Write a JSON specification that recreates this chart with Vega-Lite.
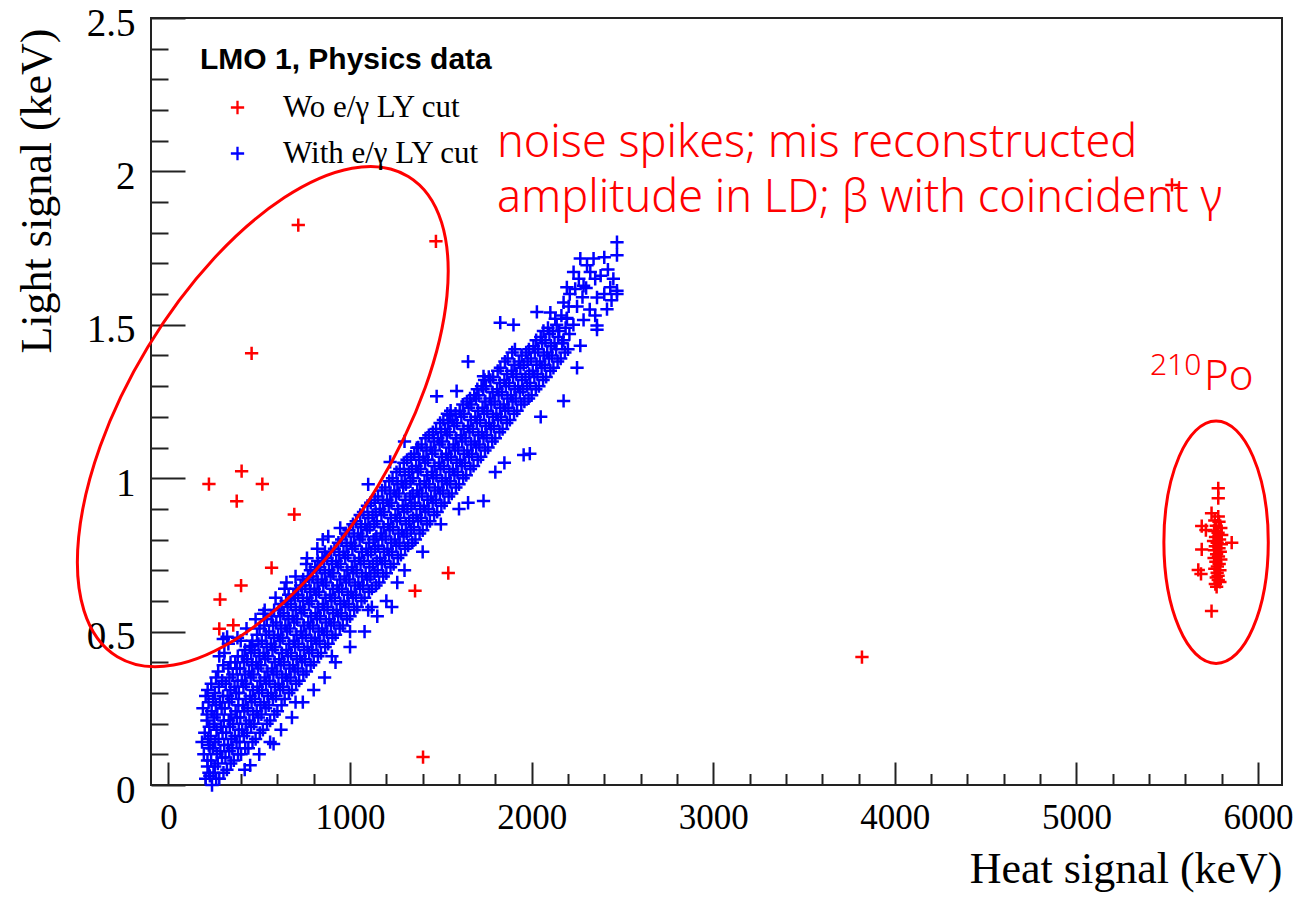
{
  "$schema": "https://vega.github.io/schema/vega-lite/v6.json",
  "width": 1131,
  "height": 767,
  "autosize": {"type": "none"},
  "padding": {"left": 151, "top": 18, "right": 14, "bottom": 113},
  "background": "white",
  "config": {
    "view": {"stroke": "#222222", "strokeWidth": 2},
    "axis": {"grid": false, "tickColor": "#222222", "tickWidth": 2, "labelColor": "black", "titleColor": "black"}
  },
  "datasets": {
    "wo": [
      {"h":715,"l":1.825},{"h":1473,"l":1.772},{"h":458,"l":1.407},{"h":223,"l":0.981},{"h":403,"l":1.023},{"h":517,"l":0.981},{"h":376,"l":0.925},{"h":693,"l":0.882},{"h":568,"l":0.708},{"h":400,"l":0.65},{"h":284,"l":0.605},{"h":280,"l":0.509},{"h":357,"l":0.521},{"h":1541,"l":0.691},{"h":1358,"l":0.633},{"h":1402,"l":0.091},{"h":3819,"l":0.417},{"h":5526,"l":1.956},
      {"h":5781,"l":0.967},{"h":5781,"l":0.935},{"h":5744,"l":0.886},{"h":5781,"l":0.875},{"h":5690,"l":0.844},{"h":5713,"l":0.831},{"h":5855,"l":0.79},{"h":5690,"l":0.768},{"h":5671,"l":0.701},{"h":5686,"l":0.688},{"h":5781,"l":0.668},{"h":5772,"l":0.646},{"h":5744,"l":0.567},
      {"h":5762,"l":0.862},{"h":5785,"l":0.858},{"h":5770,"l":0.845},{"h":5795,"l":0.838},{"h":5758,"l":0.828},{"h":5780,"l":0.822},{"h":5800,"l":0.815},{"h":5766,"l":0.808},{"h":5788,"l":0.8},{"h":5755,"l":0.795},{"h":5775,"l":0.79},{"h":5798,"l":0.785},{"h":5765,"l":0.778},{"h":5785,"l":0.772},{"h":5760,"l":0.765},{"h":5792,"l":0.76},{"h":5772,"l":0.752},{"h":5782,"l":0.745},{"h":5758,"l":0.74},{"h":5795,"l":0.735},{"h":5768,"l":0.728},{"h":5786,"l":0.72},{"h":5776,"l":0.712},{"h":5762,"l":0.705},{"h":5790,"l":0.7},{"h":5775,"l":0.692},{"h":5780,"l":0.682},{"h":5770,"l":0.676},{"h":5790,"l":0.662},{"h":5765,"l":0.655}
    ],
    "with": [
      {"h":205,"l":0.02},{"h":215,"l":0.06},{"h":195,"l":0.1},{"h":222,"l":0.13},{"h":200,"l":0.17},{"h":212,"l":0.21},{"h":190,"l":0.25},{"h":205,"l":0.29},{"h":228,"l":0.03},{"h":185,"l":0.14},
      {"h":223,"l":0.04},{"h":215,"l":0.08},{"h":227,"l":0.12},{"h":218,"l":0.15},{"h":225,"l":0.19},{"h":213,"l":0.23},{"h":221,"l":0.27},{"h":216,"l":0.31},
      {"h":240,"l":0.0},{"h":248,"l":0.04},{"h":235,"l":0.08},{"h":244,"l":0.12},{"h":232,"l":0.16},{"h":250,"l":0.2},{"h":238,"l":0.24},{"h":246,"l":0.28},{"h":236,"l":0.33},
      {"h":263,"l":0.02},{"h":255,"l":0.06},{"h":267,"l":0.1},{"h":258,"l":0.14},{"h":265,"l":0.18},{"h":253,"l":0.22},{"h":261,"l":0.26},{"h":256,"l":0.3},{"h":262,"l":0.35},
      {"h":280,"l":0.02},{"h":272,"l":0.07},{"h":286,"l":0.11},{"h":276,"l":0.15},{"h":290,"l":0.19},{"h":268,"l":0.23},{"h":284,"l":0.27},{"h":278,"l":0.32},{"h":274,"l":0.37},
      {"h":303,"l":0.04},{"h":295,"l":0.09},{"h":307,"l":0.13},{"h":298,"l":0.17},{"h":305,"l":0.21},{"h":293,"l":0.25},{"h":301,"l":0.29},{"h":296,"l":0.34},{"h":302,"l":0.39},
      {"h":322,"l":0.05},{"h":314,"l":0.09},{"h":328,"l":0.13},{"h":318,"l":0.17},{"h":332,"l":0.21},{"h":310,"l":0.25},{"h":326,"l":0.29},{"h":316,"l":0.33},{"h":330,"l":0.38},{"h":308,"l":0.43},
      {"h":343,"l":0.07},{"h":335,"l":0.11},{"h":347,"l":0.15},{"h":338,"l":0.19},{"h":345,"l":0.23},{"h":333,"l":0.27},{"h":341,"l":0.31},{"h":336,"l":0.35},{"h":342,"l":0.4},
      {"h":360,"l":0.08},{"h":352,"l":0.12},{"h":366,"l":0.16},{"h":356,"l":0.2},{"h":370,"l":0.24},{"h":348,"l":0.28},{"h":364,"l":0.32},{"h":354,"l":0.36},{"h":368,"l":0.4},
      {"h":383,"l":0.1},{"h":375,"l":0.14},{"h":387,"l":0.18},{"h":378,"l":0.22},{"h":385,"l":0.26},{"h":373,"l":0.3},{"h":381,"l":0.34},{"h":376,"l":0.38},{"h":382,"l":0.42},
      {"h":400,"l":0.1},{"h":392,"l":0.14},{"h":406,"l":0.18},{"h":396,"l":0.22},{"h":410,"l":0.26},{"h":388,"l":0.3},{"h":404,"l":0.34},{"h":394,"l":0.38},{"h":408,"l":0.42},{"h":398,"l":0.47},
      {"h":423,"l":0.12},{"h":415,"l":0.16},{"h":427,"l":0.2},{"h":418,"l":0.24},{"h":425,"l":0.28},{"h":413,"l":0.32},{"h":421,"l":0.36},{"h":416,"l":0.4},{"h":422,"l":0.44},
      {"h":440,"l":0.12},{"h":432,"l":0.17},{"h":446,"l":0.21},{"h":436,"l":0.25},{"h":450,"l":0.29},{"h":428,"l":0.33},{"h":444,"l":0.37},{"h":434,"l":0.41},{"h":448,"l":0.45},
      {"h":463,"l":0.14},{"h":455,"l":0.19},{"h":467,"l":0.23},{"h":458,"l":0.27},{"h":465,"l":0.31},{"h":453,"l":0.35},{"h":461,"l":0.39},{"h":456,"l":0.43},{"h":462,"l":0.47},
      {"h":480,"l":0.15},{"h":472,"l":0.2},{"h":486,"l":0.24},{"h":476,"l":0.28},{"h":490,"l":0.32},{"h":468,"l":0.36},{"h":484,"l":0.4},{"h":474,"l":0.44},{"h":488,"l":0.49},
      {"h":503,"l":0.17},{"h":495,"l":0.22},{"h":507,"l":0.26},{"h":498,"l":0.3},{"h":505,"l":0.34},{"h":493,"l":0.38},{"h":501,"l":0.42},{"h":496,"l":0.46},{"h":502,"l":0.51},
      {"h":520,"l":0.18},{"h":512,"l":0.23},{"h":526,"l":0.27},{"h":516,"l":0.31},{"h":530,"l":0.35},{"h":508,"l":0.39},{"h":524,"l":0.43},{"h":514,"l":0.47},{"h":528,"l":0.52},
      {"h":543,"l":0.2},{"h":535,"l":0.25},{"h":547,"l":0.29},{"h":538,"l":0.33},{"h":545,"l":0.37},{"h":533,"l":0.41},{"h":541,"l":0.45},{"h":536,"l":0.49},{"h":542,"l":0.54},
      {"h":560,"l":0.21},{"h":552,"l":0.26},{"h":566,"l":0.3},{"h":556,"l":0.34},{"h":570,"l":0.38},{"h":548,"l":0.42},{"h":564,"l":0.46},{"h":554,"l":0.5},{"h":568,"l":0.55},
      {"h":583,"l":0.23},{"h":575,"l":0.28},{"h":587,"l":0.32},{"h":578,"l":0.36},{"h":585,"l":0.4},{"h":573,"l":0.44},{"h":581,"l":0.48},{"h":576,"l":0.52},{"h":582,"l":0.57},
      {"h":600,"l":0.24},{"h":592,"l":0.29},{"h":606,"l":0.33},{"h":596,"l":0.37},{"h":610,"l":0.41},{"h":588,"l":0.45},{"h":604,"l":0.49},{"h":594,"l":0.53},{"h":608,"l":0.57},
      {"h":623,"l":0.26},{"h":615,"l":0.31},{"h":627,"l":0.35},{"h":618,"l":0.39},{"h":625,"l":0.43},{"h":613,"l":0.47},{"h":621,"l":0.51},{"h":616,"l":0.55},{"h":622,"l":0.59},
      {"h":640,"l":0.28},{"h":632,"l":0.32},{"h":646,"l":0.36},{"h":636,"l":0.4},{"h":650,"l":0.44},{"h":628,"l":0.48},{"h":644,"l":0.52},{"h":634,"l":0.56},{"h":648,"l":0.6},
      {"h":663,"l":0.3},{"h":655,"l":0.34},{"h":667,"l":0.38},{"h":658,"l":0.42},{"h":665,"l":0.46},{"h":653,"l":0.5},{"h":661,"l":0.54},{"h":656,"l":0.58},{"h":662,"l":0.62},
      {"h":680,"l":0.31},{"h":672,"l":0.35},{"h":686,"l":0.39},{"h":676,"l":0.43},{"h":690,"l":0.47},{"h":668,"l":0.51},{"h":684,"l":0.55},{"h":674,"l":0.59},{"h":688,"l":0.62},
      {"h":703,"l":0.33},{"h":695,"l":0.37},{"h":707,"l":0.41},{"h":698,"l":0.45},{"h":705,"l":0.49},{"h":693,"l":0.53},{"h":701,"l":0.57},{"h":696,"l":0.61},{"h":702,"l":0.64},
      {"h":720,"l":0.34},{"h":712,"l":0.38},{"h":726,"l":0.42},{"h":716,"l":0.46},{"h":730,"l":0.5},{"h":708,"l":0.54},{"h":724,"l":0.58},{"h":714,"l":0.62},{"h":728,"l":0.65},
      {"h":743,"l":0.36},{"h":735,"l":0.4},{"h":747,"l":0.44},{"h":738,"l":0.48},{"h":745,"l":0.52},{"h":733,"l":0.56},{"h":741,"l":0.6},{"h":736,"l":0.64},{"h":742,"l":0.67},
      {"h":760,"l":0.37},{"h":752,"l":0.41},{"h":766,"l":0.45},{"h":756,"l":0.49},{"h":770,"l":0.53},{"h":748,"l":0.57},{"h":764,"l":0.61},{"h":754,"l":0.65},{"h":768,"l":0.68},
      {"h":783,"l":0.39},{"h":775,"l":0.43},{"h":787,"l":0.47},{"h":778,"l":0.51},{"h":785,"l":0.55},{"h":773,"l":0.59},{"h":781,"l":0.63},{"h":776,"l":0.67},{"h":782,"l":0.7},
      {"h":800,"l":0.4},{"h":792,"l":0.44},{"h":806,"l":0.48},{"h":796,"l":0.52},{"h":810,"l":0.56},{"h":788,"l":0.6},{"h":804,"l":0.64},{"h":794,"l":0.68},{"h":808,"l":0.71},
      {"h":823,"l":0.42},{"h":815,"l":0.46},{"h":827,"l":0.5},{"h":818,"l":0.54},{"h":825,"l":0.58},{"h":813,"l":0.62},{"h":821,"l":0.66},{"h":816,"l":0.7},{"h":822,"l":0.73},
      {"h":840,"l":0.43},{"h":832,"l":0.47},{"h":846,"l":0.51},{"h":836,"l":0.55},{"h":850,"l":0.59},{"h":828,"l":0.63},{"h":844,"l":0.67},{"h":834,"l":0.71},{"h":848,"l":0.74},
      {"h":863,"l":0.45},{"h":855,"l":0.49},{"h":867,"l":0.53},{"h":858,"l":0.57},{"h":865,"l":0.61},{"h":853,"l":0.65},{"h":861,"l":0.69},{"h":856,"l":0.73},{"h":862,"l":0.76},
      {"h":880,"l":0.46},{"h":872,"l":0.5},{"h":886,"l":0.54},{"h":876,"l":0.58},{"h":890,"l":0.62},{"h":868,"l":0.66},{"h":884,"l":0.7},{"h":874,"l":0.74},
      {"h":903,"l":0.48},{"h":895,"l":0.52},{"h":907,"l":0.56},{"h":898,"l":0.6},{"h":905,"l":0.64},{"h":893,"l":0.68},{"h":901,"l":0.72},{"h":896,"l":0.76},
      {"h":920,"l":0.49},{"h":912,"l":0.53},{"h":926,"l":0.57},{"h":916,"l":0.61},{"h":930,"l":0.65},{"h":908,"l":0.69},{"h":924,"l":0.73},{"h":914,"l":0.77},
      {"h":943,"l":0.51},{"h":935,"l":0.55},{"h":947,"l":0.59},{"h":938,"l":0.63},{"h":945,"l":0.67},{"h":933,"l":0.71},{"h":941,"l":0.75},{"h":936,"l":0.79},
      {"h":960,"l":0.52},{"h":952,"l":0.56},{"h":966,"l":0.6},{"h":956,"l":0.64},{"h":970,"l":0.68},{"h":948,"l":0.72},{"h":964,"l":0.76},{"h":954,"l":0.8},
      {"h":983,"l":0.54},{"h":975,"l":0.58},{"h":987,"l":0.62},{"h":978,"l":0.66},{"h":985,"l":0.7},{"h":973,"l":0.74},{"h":981,"l":0.78},{"h":976,"l":0.82},
      {"h":1000,"l":0.55},{"h":992,"l":0.59},{"h":1006,"l":0.63},{"h":996,"l":0.67},{"h":1010,"l":0.71},{"h":988,"l":0.75},{"h":1004,"l":0.79},{"h":994,"l":0.83},
      {"h":1023,"l":0.57},{"h":1015,"l":0.61},{"h":1027,"l":0.65},{"h":1018,"l":0.69},{"h":1025,"l":0.73},{"h":1013,"l":0.77},{"h":1021,"l":0.81},{"h":1016,"l":0.85},
      {"h":1040,"l":0.58},{"h":1032,"l":0.62},{"h":1046,"l":0.66},{"h":1036,"l":0.7},{"h":1050,"l":0.74},{"h":1028,"l":0.78},{"h":1044,"l":0.82},{"h":1034,"l":0.86},
      {"h":1063,"l":0.6},{"h":1055,"l":0.64},{"h":1067,"l":0.68},{"h":1058,"l":0.72},{"h":1065,"l":0.76},{"h":1053,"l":0.8},{"h":1061,"l":0.84},{"h":1056,"l":0.88},
      {"h":1080,"l":0.61},{"h":1072,"l":0.65},{"h":1086,"l":0.69},{"h":1076,"l":0.73},{"h":1090,"l":0.77},{"h":1068,"l":0.81},{"h":1084,"l":0.85},{"h":1074,"l":0.89},
      {"h":1103,"l":0.63},{"h":1095,"l":0.67},{"h":1107,"l":0.71},{"h":1098,"l":0.75},{"h":1105,"l":0.79},{"h":1093,"l":0.83},{"h":1101,"l":0.87},{"h":1096,"l":0.91},
      {"h":1120,"l":0.64},{"h":1112,"l":0.68},{"h":1126,"l":0.72},{"h":1116,"l":0.76},{"h":1130,"l":0.8},{"h":1108,"l":0.84},{"h":1124,"l":0.88},{"h":1114,"l":0.92},
      {"h":1143,"l":0.65},{"h":1135,"l":0.69},{"h":1147,"l":0.73},{"h":1138,"l":0.77},{"h":1145,"l":0.81},{"h":1133,"l":0.85},{"h":1141,"l":0.89},{"h":1136,"l":0.93},
      {"h":1160,"l":0.66},{"h":1152,"l":0.7},{"h":1166,"l":0.74},{"h":1156,"l":0.78},{"h":1170,"l":0.82},{"h":1148,"l":0.86},{"h":1164,"l":0.9},{"h":1154,"l":0.94},
      {"h":1183,"l":0.68},{"h":1175,"l":0.72},{"h":1187,"l":0.76},{"h":1178,"l":0.8},{"h":1185,"l":0.84},{"h":1173,"l":0.88},{"h":1181,"l":0.92},{"h":1176,"l":0.96},
      {"h":1200,"l":0.69},{"h":1192,"l":0.73},{"h":1206,"l":0.77},{"h":1196,"l":0.81},{"h":1210,"l":0.85},{"h":1188,"l":0.89},{"h":1204,"l":0.93},{"h":1194,"l":0.97},
      {"h":1223,"l":0.71},{"h":1215,"l":0.75},{"h":1227,"l":0.79},{"h":1218,"l":0.83},{"h":1225,"l":0.87},{"h":1213,"l":0.91},{"h":1221,"l":0.95},{"h":1216,"l":0.99},
      {"h":1240,"l":0.72},{"h":1232,"l":0.76},{"h":1246,"l":0.8},{"h":1236,"l":0.84},{"h":1250,"l":0.88},{"h":1228,"l":0.92},{"h":1244,"l":0.96},{"h":1234,"l":1.0},
      {"h":1263,"l":0.74},{"h":1255,"l":0.78},{"h":1267,"l":0.82},{"h":1258,"l":0.86},{"h":1265,"l":0.9},{"h":1253,"l":0.94},{"h":1261,"l":0.98},{"h":1256,"l":1.02},
      {"h":1280,"l":0.75},{"h":1272,"l":0.79},{"h":1286,"l":0.83},{"h":1276,"l":0.87},{"h":1290,"l":0.91},{"h":1268,"l":0.95},{"h":1284,"l":0.99},{"h":1274,"l":1.03},
      {"h":1303,"l":0.77},{"h":1295,"l":0.81},{"h":1307,"l":0.85},{"h":1298,"l":0.89},{"h":1305,"l":0.93},{"h":1293,"l":0.97},{"h":1301,"l":1.01},{"h":1296,"l":1.05},
      {"h":1320,"l":0.78},{"h":1312,"l":0.82},{"h":1326,"l":0.86},{"h":1316,"l":0.9},{"h":1330,"l":0.94},{"h":1308,"l":0.98},{"h":1324,"l":1.02},{"h":1314,"l":1.06},
      {"h":1343,"l":0.79},{"h":1335,"l":0.83},{"h":1347,"l":0.87},{"h":1338,"l":0.91},{"h":1345,"l":0.95},{"h":1333,"l":0.99},{"h":1341,"l":1.03},{"h":1336,"l":1.07},
      {"h":1360,"l":0.8},{"h":1352,"l":0.84},{"h":1366,"l":0.88},{"h":1356,"l":0.92},{"h":1370,"l":0.96},{"h":1348,"l":1.0},{"h":1364,"l":1.04},{"h":1354,"l":1.08},
      {"h":1383,"l":0.82},{"h":1375,"l":0.86},{"h":1387,"l":0.9},{"h":1378,"l":0.94},{"h":1385,"l":0.98},{"h":1373,"l":1.02},{"h":1381,"l":1.06},{"h":1376,"l":1.1},
      {"h":1400,"l":0.83},{"h":1392,"l":0.87},{"h":1406,"l":0.91},{"h":1396,"l":0.95},{"h":1410,"l":0.99},{"h":1388,"l":1.03},{"h":1404,"l":1.07},{"h":1394,"l":1.11},
      {"h":1423,"l":0.85},{"h":1415,"l":0.89},{"h":1427,"l":0.93},{"h":1418,"l":0.97},{"h":1425,"l":1.01},{"h":1413,"l":1.05},{"h":1421,"l":1.09},{"h":1416,"l":1.13},
      {"h":1440,"l":0.86},{"h":1432,"l":0.9},{"h":1446,"l":0.94},{"h":1436,"l":0.98},{"h":1450,"l":1.02},{"h":1428,"l":1.06},{"h":1444,"l":1.1},{"h":1434,"l":1.14},
      {"h":1463,"l":0.88},{"h":1455,"l":0.92},{"h":1467,"l":0.96},{"h":1458,"l":1.0},{"h":1465,"l":1.04},{"h":1453,"l":1.08},{"h":1461,"l":1.12},{"h":1456,"l":1.15},
      {"h":1480,"l":0.89},{"h":1472,"l":0.93},{"h":1486,"l":0.97},{"h":1476,"l":1.01},{"h":1490,"l":1.05},{"h":1468,"l":1.09},{"h":1484,"l":1.13},{"h":1474,"l":1.16},
      {"h":1503,"l":0.91},{"h":1495,"l":0.95},{"h":1507,"l":0.99},{"h":1498,"l":1.03},{"h":1505,"l":1.07},{"h":1493,"l":1.11},{"h":1501,"l":1.15},{"h":1496,"l":1.18},
      {"h":1520,"l":0.92},{"h":1512,"l":0.96},{"h":1526,"l":1.0},{"h":1516,"l":1.04},{"h":1530,"l":1.08},{"h":1508,"l":1.12},{"h":1524,"l":1.16},{"h":1514,"l":1.19},
      {"h":1543,"l":0.94},{"h":1535,"l":0.98},{"h":1547,"l":1.02},{"h":1538,"l":1.06},{"h":1545,"l":1.1},{"h":1533,"l":1.14},{"h":1541,"l":1.18},{"h":1536,"l":1.21},
      {"h":1560,"l":0.95},{"h":1552,"l":0.99},{"h":1566,"l":1.03},{"h":1556,"l":1.07},{"h":1570,"l":1.11},{"h":1548,"l":1.15},{"h":1564,"l":1.19},{"h":1554,"l":1.22},
      {"h":1583,"l":0.97},{"h":1575,"l":1.01},{"h":1587,"l":1.05},{"h":1578,"l":1.09},{"h":1585,"l":1.13},{"h":1573,"l":1.17},{"h":1581,"l":1.21},
      {"h":1600,"l":0.98},{"h":1592,"l":1.02},{"h":1606,"l":1.06},{"h":1596,"l":1.1},{"h":1610,"l":1.14},{"h":1588,"l":1.18},{"h":1604,"l":1.22},
      {"h":1623,"l":1.0},{"h":1615,"l":1.04},{"h":1627,"l":1.08},{"h":1618,"l":1.12},{"h":1625,"l":1.16},{"h":1613,"l":1.2},{"h":1621,"l":1.24},
      {"h":1640,"l":1.01},{"h":1632,"l":1.05},{"h":1646,"l":1.09},{"h":1636,"l":1.13},{"h":1650,"l":1.17},{"h":1628,"l":1.21},{"h":1644,"l":1.25},
      {"h":1663,"l":1.03},{"h":1655,"l":1.07},{"h":1667,"l":1.11},{"h":1658,"l":1.15},{"h":1665,"l":1.19},{"h":1653,"l":1.23},{"h":1661,"l":1.26},
      {"h":1680,"l":1.04},{"h":1672,"l":1.08},{"h":1686,"l":1.12},{"h":1676,"l":1.16},{"h":1690,"l":1.2},{"h":1668,"l":1.24},{"h":1684,"l":1.27},
      {"h":1703,"l":1.06},{"h":1695,"l":1.1},{"h":1707,"l":1.14},{"h":1698,"l":1.18},{"h":1705,"l":1.22},{"h":1693,"l":1.26},{"h":1701,"l":1.29},
      {"h":1720,"l":1.07},{"h":1712,"l":1.11},{"h":1726,"l":1.15},{"h":1716,"l":1.19},{"h":1730,"l":1.23},{"h":1708,"l":1.27},{"h":1724,"l":1.3},
      {"h":1743,"l":1.09},{"h":1735,"l":1.13},{"h":1747,"l":1.17},{"h":1738,"l":1.21},{"h":1745,"l":1.25},{"h":1733,"l":1.29},{"h":1741,"l":1.32},
      {"h":1760,"l":1.1},{"h":1752,"l":1.14},{"h":1766,"l":1.18},{"h":1756,"l":1.22},{"h":1770,"l":1.26},{"h":1748,"l":1.3},{"h":1764,"l":1.33},
      {"h":1783,"l":1.12},{"h":1775,"l":1.16},{"h":1787,"l":1.2},{"h":1778,"l":1.24},{"h":1785,"l":1.28},{"h":1773,"l":1.32},
      {"h":1800,"l":1.13},{"h":1792,"l":1.17},{"h":1806,"l":1.21},{"h":1796,"l":1.25},{"h":1810,"l":1.29},{"h":1788,"l":1.33},
      {"h":1823,"l":1.15},{"h":1815,"l":1.19},{"h":1827,"l":1.23},{"h":1818,"l":1.27},{"h":1825,"l":1.31},{"h":1813,"l":1.35},
      {"h":1840,"l":1.16},{"h":1832,"l":1.2},{"h":1846,"l":1.24},{"h":1836,"l":1.28},{"h":1850,"l":1.32},{"h":1828,"l":1.36},
      {"h":1863,"l":1.18},{"h":1855,"l":1.22},{"h":1867,"l":1.26},{"h":1858,"l":1.3},{"h":1865,"l":1.34},{"h":1853,"l":1.38},
      {"h":1880,"l":1.19},{"h":1872,"l":1.23},{"h":1886,"l":1.27},{"h":1876,"l":1.31},{"h":1890,"l":1.35},{"h":1868,"l":1.39},
      {"h":1903,"l":1.21},{"h":1895,"l":1.25},{"h":1907,"l":1.29},{"h":1898,"l":1.33},{"h":1905,"l":1.37},{"h":1893,"l":1.41},
      {"h":1920,"l":1.22},{"h":1912,"l":1.26},{"h":1926,"l":1.3},{"h":1916,"l":1.34},{"h":1930,"l":1.38},{"h":1908,"l":1.42},
      {"h":1943,"l":1.24},{"h":1935,"l":1.28},{"h":1947,"l":1.32},{"h":1938,"l":1.36},{"h":1945,"l":1.4},
      {"h":1960,"l":1.25},{"h":1952,"l":1.29},{"h":1966,"l":1.33},{"h":1956,"l":1.37},{"h":1970,"l":1.41},
      {"h":1983,"l":1.26},{"h":1975,"l":1.3},{"h":1987,"l":1.34},{"h":1978,"l":1.38},{"h":1985,"l":1.42},
      {"h":2000,"l":1.27},{"h":1992,"l":1.31},{"h":2006,"l":1.35},{"h":1996,"l":1.39},{"h":2010,"l":1.43},
      {"h":2023,"l":1.29},{"h":2015,"l":1.33},{"h":2027,"l":1.37},{"h":2018,"l":1.41},{"h":2025,"l":1.45},
      {"h":2040,"l":1.3},{"h":2032,"l":1.34},{"h":2046,"l":1.38},{"h":2036,"l":1.42},{"h":2050,"l":1.46},
      {"h":2063,"l":1.32},{"h":2055,"l":1.36},{"h":2067,"l":1.4},{"h":2058,"l":1.44},{"h":2065,"l":1.48},
      {"h":2080,"l":1.33},{"h":2072,"l":1.37},{"h":2086,"l":1.41},{"h":2076,"l":1.45},{"h":2090,"l":1.49},
      {"h":2103,"l":1.35},{"h":2095,"l":1.39},{"h":2107,"l":1.43},{"h":2098,"l":1.47},
      {"h":2120,"l":1.36},{"h":2112,"l":1.4},{"h":2126,"l":1.44},{"h":2116,"l":1.48},{"h":2130,"l":1.52},
      {"h":2143,"l":1.38},{"h":2135,"l":1.42},{"h":2147,"l":1.46},{"h":2138,"l":1.5},
      {"h":2160,"l":1.39},{"h":2168,"l":1.44},{"h":2152,"l":1.48},{"h":2164,"l":1.53},
      {"h":2183,"l":1.41},{"h":2175,"l":1.45},{"h":2187,"l":1.49},
      {"h":2200,"l":1.42},{"h":2208,"l":1.47},{"h":2194,"l":1.52},{"h":2204,"l":1.56},
      {"h":2470,"l":1.769},{"h":2470,"l":1.727},{"h":2268,"l":1.716},{"h":2341,"l":1.716},{"h":2305,"l":1.694},{"h":2194,"l":1.622},{"h":2240,"l":1.617},{"h":2286,"l":1.627},{"h":2470,"l":1.611},{"h":2433,"l":1.622},{"h":2360,"l":1.589},{"h":2415,"l":1.551},{"h":2360,"l":1.498},{"h":2268,"l":1.432},{"h":2286,"l":1.516},{"h":2194,"l":1.522},{"h":2103,"l":1.54},{"h":2176,"l":1.573},{"h":2323,"l":1.672},{"h":2231,"l":1.672},{"h":2350,"l":1.65},{"h":2250,"l":1.56},{"h":2320,"l":1.55},{"h":2400,"l":1.6},{"h":2420,"l":1.68},{"h":2230,"l":1.5},{"h":2280,"l":1.59},{"h":2380,"l":1.66},{"h":2440,"l":1.58},{"h":2210,"l":1.6},{"h":2300,"l":1.62},{"h":2350,"l":1.53},{"h":2260,"l":1.65},{"h":2400,"l":1.72},{"h":2450,"l":1.65},
      {"h":323,"l":0.483},{"h":524,"l":0.558},{"h":763,"l":0.739},{"h":946,"l":0.838},{"h":1221,"l":1.053},{"h":1368,"l":1.099},{"h":1552,"l":1.204},{"h":1735,"l":1.332},{"h":2029,"l":1.542},{"h":1827,"l":1.507},{"h":1477,"l":1.267},{"h":1587,"l":1.284},{"h":302,"l":0.476},{"h":458,"l":0.453},{"h":650,"l":0.66},{"h":850,"l":0.8},{"h":1100,"l":0.98},{"h":1300,"l":1.12},{"h":1650,"l":1.38},{"h":1900,"l":1.5},
      {"h":450,"l":0.064},{"h":579,"l":0.134},{"h":1200,"l":0.6},{"h":1230,"l":0.58},{"h":1735,"l":0.926},{"h":1956,"l":1.076},{"h":1990,"l":1.08},{"h":2176,"l":1.252},{"h":2360,"l":1.484},{"h":2470,"l":1.6},{"h":900,"l":0.42},{"h":1100,"l":0.57},{"h":1300,"l":0.7},{"h":1650,"l":0.92},{"h":1850,"l":1.05},{"h":2050,"l":1.2},{"h":2250,"l":1.36},{"h":700,"l":0.27},{"h":1000,"l":0.5},{"h":1500,"l":0.85},
      {"h":280,"l":0.42},{"h":330,"l":0.46},{"h":380,"l":0.48},{"h":430,"l":0.51},{"h":480,"l":0.54},{"h":530,"l":0.57},{"h":590,"l":0.61},{"h":640,"l":0.64},{"h":700,"l":0.68},{"h":760,"l":0.72},{"h":820,"l":0.77},{"h":880,"l":0.81},
      {"h":420,"l":0.05},{"h":500,"l":0.1},{"h":560,"l":0.14},{"h":620,"l":0.18},{"h":680,"l":0.22},{"h":740,"l":0.27},{"h":800,"l":0.31},{"h":860,"l":0.35},{"h":920,"l":0.4},{"h":1000,"l":0.45},{"h":1080,"l":0.5},{"h":1150,"l":0.55},
      {"h":1120,"l":0.58},{"h":1260,"l":0.66},{"h":1400,"l":0.76},{"h":1600,"l":0.9},{"h":1800,"l":1.02}
    ],
    "e1": [{"h": 519.6, "l": 1.2008}],
    "e2": [{"h": 5769, "l": 0.7914}],
    "notes": [
      {"h": 1809, "l": 2.048, "t": "noise spikes; mis reconstructed"},
      {"h": 1809, "l": 1.869, "t": "amplitude in LD; β with coincident γ"}
    ],
    "sup": [{"h": 5405, "l": 1.3364, "t": "210"}],
    "po": [{"h": 5702, "l": 1.2875, "t": "Po"}]
  },
  "layer": [
    {
      "data": {"name": "wo"},
      "mark": {"type": "point", "shape": "M-1,0H1M0,-1V1", "filled": false, "size": 177, "strokeWidth": 2.5, "opacity": 1},
      "encoding": {
        "x": {"field": "h", "type": "quantitative", "scale": {"domain": [-96, 6132], "nice": false, "zero": false},
          "axis": {"orient": "bottom", "values": [0, 1000, 2000, 3000, 4000, 5000, 6000], "format": "d", "ticks": false, "tickSize": 0, "domain": false,
            "labelFont": "Liberation Serif", "labelFontSize": 35, "labelPadding": 15, "labelFlush": false, "labelOverlap": false,
            "title": "Heat signal (keV)", "titleFont": "Liberation Serif", "titleFontSize": 44, "titleFontWeight": "normal",
            "titleAlign": "right", "titleAnchor": "end", "titleBaseline": "alphabetic", "titleX": 1131, "titleY": 97}},
        "y": {"field": "l", "type": "quantitative", "scale": {"domain": [0, 2.5], "nice": false, "zero": false},
          "axis": {"orient": "left", "values": [0, 0.5, 1, 1.5, 2, 2.5], "format": "~g", "ticks": false, "tickSize": 0, "domain": false,
            "labelFont": "Liberation Serif", "labelFontSize": 39, "labelPadding": 16, "labelOffset": 5, "labelFlush": false, "labelOverlap": false, "labelBaseline": "middle",
            "title": "Light signal (keV)", "titleFont": "Liberation Serif", "titleFontSize": 44, "titleFontWeight": "normal",
            "titleAngle": 270, "titleAlign": "right", "titleBaseline": "alphabetic", "titleX": -101, "titleY": 10}},
        "color": {"datum": "Wo e/γ LY cut", "type": "nominal",
          "scale": {"domain": ["Wo e/γ LY cut", "With e/γ LY cut"], "range": ["#ff0000", "#0000ff"]},
          "legend": {"orient": "none", "legendX": 49, "legendY": 27, "title": "LMO 1, Physics data",
            "titleFont": "Liberation Sans", "titleFontWeight": "bold", "titleFontSize": 30, "titleColor": "black", "titlePadding": 17, "titleLimit": 600,
            "labelFont": "Liberation Serif", "labelFontSize": 31, "labelColor": "black", "labelOffset": 30, "labelLimit": 600,
            "symbolType": "M-1,0H1M0,-1V1", "symbolSize": 177, "symbolStrokeWidth": 2.3, "symbolOffset": 22, "rowPadding": 14, "padding": 0}}
      }
    },
    {
      "data": {"name": "with"},
      "mark": {"type": "point", "shape": "M-1,0H1M0,-1V1", "filled": false, "size": 177, "strokeWidth": 2.5, "opacity": 1},
      "encoding": {
        "x": {"field": "h", "type": "quantitative", "scale": {"domain": [-96, 6132], "nice": false, "zero": false},
          "axis": {"orient": "bottom", "values": [0, 1000, 2000, 3000, 4000, 5000, 6000], "offset": -23, "tickSize": 23, "labels": false, "domain": false, "title": null}},
        "y": {"field": "l", "type": "quantitative", "scale": {"domain": [0, 2.5], "nice": false, "zero": false},
          "axis": {"orient": "left", "values": [0, 0.5, 1, 1.5, 2, 2.5], "offset": -34, "tickSize": 34, "labels": false, "domain": false, "title": null}},
        "color": {"datum": "With e/γ LY cut", "type": "nominal"}
      }
    },
    {
      "data": {"name": "e1"},
      "mark": {"type": "point", "shape": "M0,-1A0.4786,1,0,1,1,0,1A0.4786,1,0,1,1,0,-1Z", "filled": false, "size": 315395, "angle": 31.2, "strokeWidth": 3, "color": "#ff0000", "opacity": 1},
      "encoding": {
        "x": {"field": "h", "type": "quantitative", "scale": {"domain": [-96, 6132], "nice": false, "zero": false},
          "axis": {"orient": "bottom", "values": [200, 400, 600, 800, 1200, 1400, 1600, 1800, 2200, 2400, 2600, 2800, 3200, 3400, 3600, 3800, 4200, 4400, 4600, 4800, 5200, 5400, 5600, 5800], "offset": -11.5, "tickSize": 11.5, "labels": false, "domain": false, "title": null}},
        "y": {"field": "l", "type": "quantitative", "scale": {"domain": [0, 2.5], "nice": false, "zero": false},
          "axis": {"orient": "left", "values": [0.1, 0.2, 0.3, 0.4, 0.6, 0.7, 0.8, 0.9, 1.1, 1.2, 1.3, 1.4, 1.6, 1.7, 1.8, 1.9, 2.1, 2.2, 2.3, 2.4], "offset": -17, "tickSize": 17, "labels": false, "domain": false, "title": null}}
      }
    },
    {
      "data": {"name": "e2"},
      "mark": {"type": "point", "shape": "M0,-1A0.4307,1,0,1,1,0,1A0.4307,1,0,1,1,0,-1Z", "filled": false, "size": 58758, "strokeWidth": 3, "color": "#ff0000", "opacity": 1},
      "encoding": {
        "x": {"field": "h", "type": "quantitative", "scale": {"domain": [-96, 6132], "nice": false, "zero": false}, "axis": null},
        "y": {"field": "l", "type": "quantitative", "scale": {"domain": [0, 2.5], "nice": false, "zero": false}, "axis": null}
      }
    },
    {
      "data": {"name": "notes"},
      "mark": {"type": "text", "align": "left", "baseline": "alphabetic", "font": "Noto Sans", "fontSize": 45, "fontWeight": 300, "color": "#ff0000"},
      "encoding": {
        "x": {"field": "h", "type": "quantitative", "scale": {"domain": [-96, 6132], "nice": false, "zero": false}, "axis": null},
        "y": {"field": "l", "type": "quantitative", "scale": {"domain": [0, 2.5], "nice": false, "zero": false}, "axis": null},
        "text": {"field": "t"}
      }
    },
    {
      "data": {"name": "sup"},
      "mark": {"type": "text", "align": "left", "baseline": "alphabetic", "font": "Noto Sans", "fontSize": 30, "fontWeight": 300, "color": "#ff0000"},
      "encoding": {
        "x": {"field": "h", "type": "quantitative", "scale": {"domain": [-96, 6132], "nice": false, "zero": false}, "axis": null},
        "y": {"field": "l", "type": "quantitative", "scale": {"domain": [0, 2.5], "nice": false, "zero": false}, "axis": null},
        "text": {"field": "t"}
      }
    },
    {
      "data": {"name": "po"},
      "mark": {"type": "text", "align": "left", "baseline": "alphabetic", "font": "Noto Sans", "fontSize": 42, "fontWeight": 300, "color": "#ff0000"},
      "encoding": {
        "x": {"field": "h", "type": "quantitative", "scale": {"domain": [-96, 6132], "nice": false, "zero": false}, "axis": null},
        "y": {"field": "l", "type": "quantitative", "scale": {"domain": [0, 2.5], "nice": false, "zero": false}, "axis": null},
        "text": {"field": "t"}
      }
    }
  ],
  "resolve": {"axis": {"x": "independent", "y": "independent"}}
}
